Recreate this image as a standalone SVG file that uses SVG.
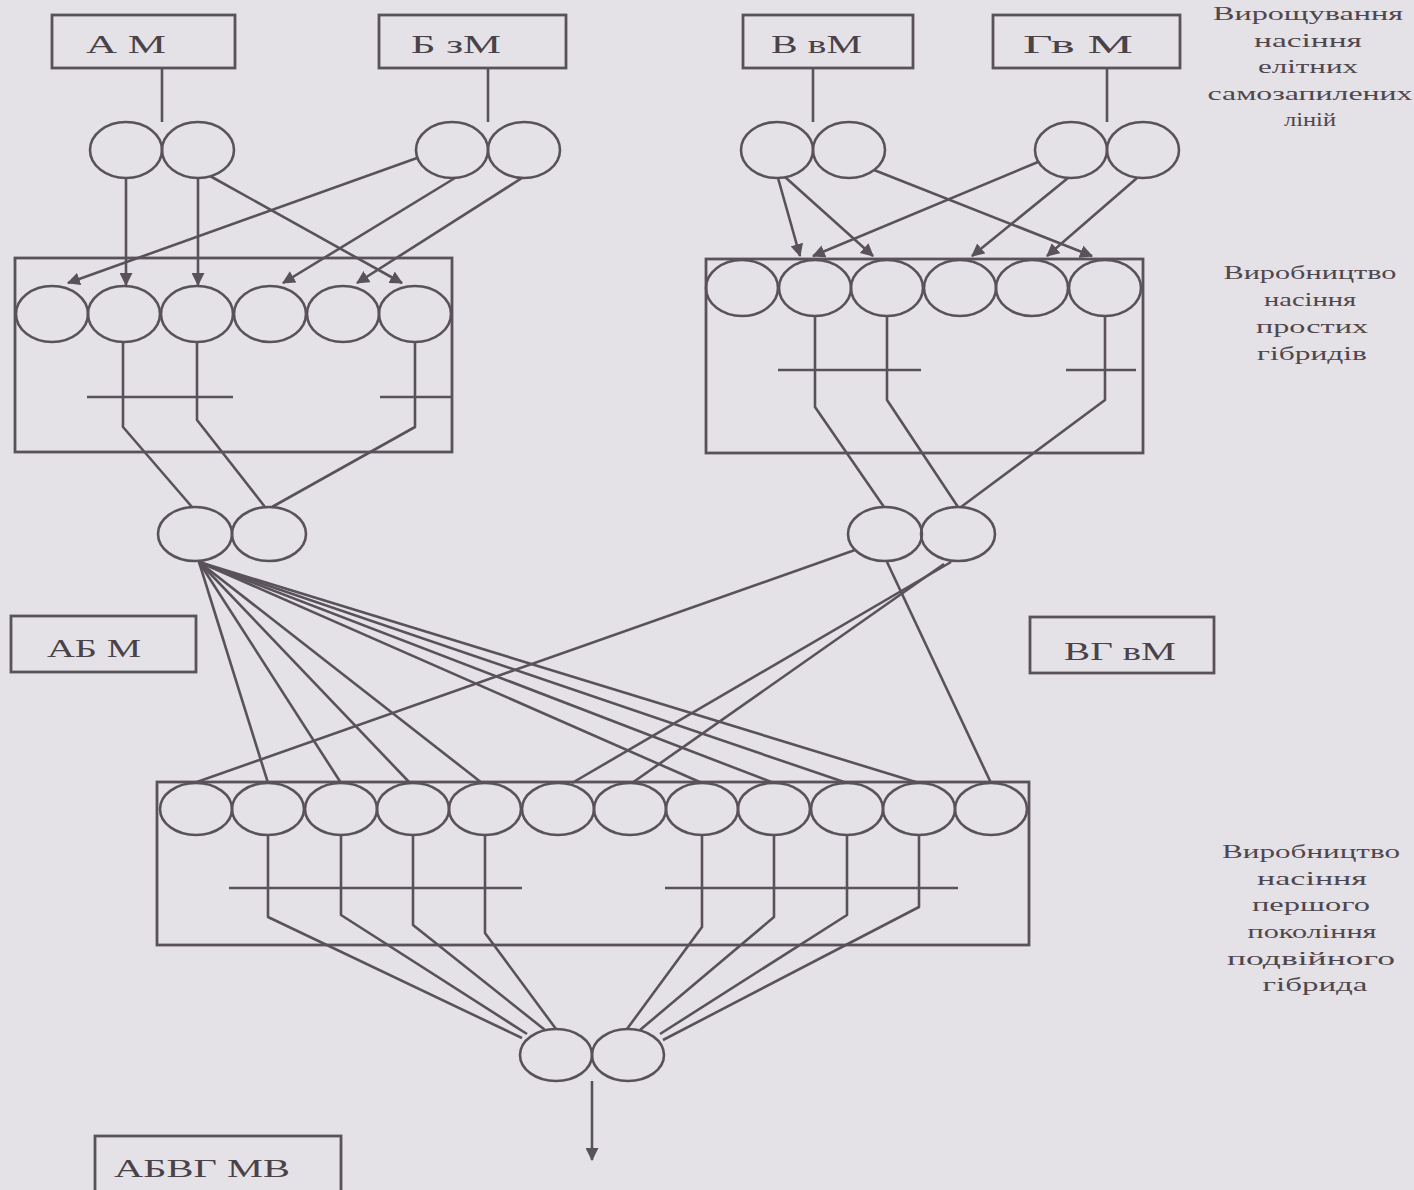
<svg xmlns="http://www.w3.org/2000/svg" width="1414" height="1190" viewBox="0 0 1414 1190">
<defs>
<style>
.ln{fill:none;stroke:#5a525a;stroke-width:2.6;stroke-linejoin:round}
.bx{fill:none;stroke:#5a525a;stroke-width:2.8}
.c{fill:none;stroke:#5a525a;stroke-width:2.6}
.lb{font-family:"Liberation Serif","Times New Roman",serif;font-size:26px;fill:#4a4249}
.sd{font-family:"Liberation Serif","Times New Roman",serif;font-size:19px;fill:#4f474e;text-anchor:middle}
</style>
<marker id="ah" viewBox="0 0 12 12" refX="11" refY="6" markerWidth="13" markerHeight="13" markerUnits="userSpaceOnUse" orient="auto">
<path d="M0,0 L12,6 L0,12 Z" fill="#5a525a"/>
</marker>
</defs>
<rect x="0" y="0" width="1414" height="1190" fill="#e5e2e7"/>

<g id="connectors">
<path class="ln" d="M162,68 V122"/>
<path class="ln" d="M488,68 V122"/>
<path class="ln" d="M813,68 V122"/>
<path class="ln" d="M1107,68 V122"/>
<path class="ln" d="M126,178 L126,285" marker-end="url(#ah)"/>
<path class="ln" d="M198,178 L198,285" marker-end="url(#ah)"/>
<path class="ln" d="M210,176 L402,283" marker-end="url(#ah)"/>
<path class="ln" d="M417,158 L68,283" marker-end="url(#ah)"/>
<path class="ln" d="M455,178 L283,283" marker-end="url(#ah)"/>
<path class="ln" d="M522,178 L357,283" marker-end="url(#ah)"/>
<path class="ln" d="M778,178 L800,256" marker-end="url(#ah)"/>
<path class="ln" d="M785,177 L873,256" marker-end="url(#ah)"/>
<path class="ln" d="M874,170 L1092,256" marker-end="url(#ah)"/>
<path class="ln" d="M1038,162 L813,256" marker-end="url(#ah)"/>
<path class="ln" d="M1068,178 L972,256" marker-end="url(#ah)"/>
<path class="ln" d="M1137,178 L1047,256" marker-end="url(#ah)"/>
<path class="ln" d="M123,342 V427 L192,507"/>
<path class="ln" d="M197,342 V420 L265,507"/>
<path class="ln" d="M415,342 V427 L272,507"/>
<path class="ln" d="M87,397 H233"/>
<path class="ln" d="M380,397 H452"/>
<path class="ln" d="M815,316 V407 L884,507"/>
<path class="ln" d="M887,316 V400 L958,507"/>
<path class="ln" d="M1105,316 V400 L961,507"/>
<path class="ln" d="M778,370 H921"/>
<path class="ln" d="M1066,370 H1136"/>
<path class="ln" d="M199,562 L268,783"/>
<path class="ln" d="M199,562 L341,783"/>
<path class="ln" d="M199,562 L410,783"/>
<path class="ln" d="M199,562 L482,783"/>
<path class="ln" d="M199,562 L702,783"/>
<path class="ln" d="M199,562 L774,783"/>
<path class="ln" d="M199,562 L847,783"/>
<path class="ln" d="M199,562 L919,783"/>
<path class="ln" d="M855,550 L194,783"/>
<path class="ln" d="M951,562 L572,783"/>
<path class="ln" d="M944,564 L632,783"/>
<path class="ln" d="M887,562 L991,783"/>
<path class="ln" d="M268,835 V917 L522,1038"/>
<path class="ln" d="M341,835 V915 L527,1034"/>
<path class="ln" d="M413,835 V925 L545,1030"/>
<path class="ln" d="M485,835 V933 L556,1029"/>
<path class="ln" d="M702,835 V927 L627,1029"/>
<path class="ln" d="M774,835 V917 L640,1030"/>
<path class="ln" d="M847,835 V915 L660,1034"/>
<path class="ln" d="M919,835 V907 L663,1040"/>
<path class="ln" d="M229,888 H522"/>
<path class="ln" d="M665,888 H958"/>
<path class="ln" d="M592,1081 V1160" marker-end="url(#ah)"/>
</g>

<g id="node-AM"><rect class="bx" x="52" y="15" width="183" height="53"/><text class="lb" x="86" y="53" textLength="80" lengthAdjust="spacingAndGlyphs">А М</text></g>
<g id="node-BzM"><rect class="bx" x="379" y="15" width="187" height="53"/><text class="lb" x="411" y="53" textLength="90" lengthAdjust="spacingAndGlyphs">Б зМ</text></g>
<g id="node-VvM"><rect class="bx" x="743" y="15" width="170" height="53"/><text class="lb" x="771" y="53" textLength="91" lengthAdjust="spacingAndGlyphs">В вМ</text></g>
<g id="node-GvM"><rect class="bx" x="993" y="15" width="187" height="53"/><text class="lb" x="1023" y="53" textLength="110" lengthAdjust="spacingAndGlyphs">Гв М</text></g>

<g id="pair-A"><ellipse class="c" cx="126" cy="150" rx="36" ry="28"/><ellipse class="c" cx="198" cy="150" rx="36" ry="28"/></g>
<g id="pair-B"><ellipse class="c" cx="452" cy="150" rx="36" ry="28"/><ellipse class="c" cx="524" cy="150" rx="36" ry="28"/></g>
<g id="pair-V"><ellipse class="c" cx="777" cy="150" rx="36" ry="28"/><ellipse class="c" cx="849" cy="150" rx="36" ry="28"/></g>
<g id="pair-G"><ellipse class="c" cx="1071" cy="150" rx="36" ry="28"/><ellipse class="c" cx="1143" cy="150" rx="36" ry="28"/></g>

<g id="field-AB">
<rect class="bx" x="15" y="258" width="437" height="194"/>
<ellipse class="c" cx="52" cy="314" rx="36" ry="28"/>
<ellipse class="c" cx="124" cy="314" rx="36" ry="28"/>
<ellipse class="c" cx="197" cy="314" rx="36" ry="28"/>
<ellipse class="c" cx="270" cy="314" rx="36" ry="28"/>
<ellipse class="c" cx="343" cy="314" rx="36" ry="28"/>
<ellipse class="c" cx="415" cy="314" rx="36" ry="28"/>
</g>

<g id="field-VG">
<rect class="bx" x="706" y="259" width="437" height="194"/>
<ellipse class="c" cx="742" cy="288" rx="36" ry="28"/>
<ellipse class="c" cx="815" cy="288" rx="36" ry="28"/>
<ellipse class="c" cx="887" cy="288" rx="36" ry="28"/>
<ellipse class="c" cx="960" cy="288" rx="36" ry="28"/>
<ellipse class="c" cx="1032" cy="288" rx="36" ry="28"/>
<ellipse class="c" cx="1105" cy="288" rx="36" ry="28"/>
</g>

<g id="pair-AB"><ellipse class="c" cx="195" cy="534" rx="37" ry="27"/><ellipse class="c" cx="269" cy="534" rx="37" ry="27"/></g>
<g id="pair-VG"><ellipse class="c" cx="885" cy="534" rx="37" ry="27"/><ellipse class="c" cx="958" cy="534" rx="37" ry="27"/></g>

<g id="node-ABM"><rect class="bx" x="11" y="616" width="185" height="56"/><text class="lb" x="47" y="657" textLength="94" lengthAdjust="spacingAndGlyphs">АБ М</text></g>
<g id="node-VGvM"><rect class="bx" x="1030" y="617" width="184" height="56"/><text class="lb" x="1064" y="660" textLength="112" lengthAdjust="spacingAndGlyphs">ВГ вМ</text></g>

<g id="field-ABVG">
<rect class="bx" x="157" y="782" width="872" height="163"/>
<ellipse class="c" cx="196" cy="809" rx="36" ry="26"/>
<ellipse class="c" cx="268" cy="809" rx="36" ry="26"/>
<ellipse class="c" cx="341" cy="809" rx="36" ry="26"/>
<ellipse class="c" cx="413" cy="809" rx="36" ry="26"/>
<ellipse class="c" cx="485" cy="809" rx="36" ry="26"/>
<ellipse class="c" cx="558" cy="809" rx="36" ry="26"/>
<ellipse class="c" cx="630" cy="809" rx="36" ry="26"/>
<ellipse class="c" cx="702" cy="809" rx="36" ry="26"/>
<ellipse class="c" cx="774" cy="809" rx="36" ry="26"/>
<ellipse class="c" cx="847" cy="809" rx="36" ry="26"/>
<ellipse class="c" cx="919" cy="809" rx="36" ry="26"/>
<ellipse class="c" cx="991" cy="809" rx="36" ry="26"/>
</g>

<g id="pair-ABVG"><ellipse class="c" cx="556" cy="1055" rx="36" ry="26"/><ellipse class="c" cx="628" cy="1055" rx="36" ry="26"/></g>

<g id="node-ABVGMV"><rect class="bx" x="95" y="1136" width="246" height="70"/><text class="lb" x="114" y="1177" textLength="176" lengthAdjust="spacingAndGlyphs">АБВГ МВ</text></g>

<g id="label-1">
<text class="sd" x="1308" y="20" textLength="190" lengthAdjust="spacingAndGlyphs">Вирощування</text>
<text class="sd" x="1308" y="47" textLength="108" lengthAdjust="spacingAndGlyphs">насіння</text>
<text class="sd" x="1308" y="73" textLength="100" lengthAdjust="spacingAndGlyphs">елітних</text>
<text class="sd" x="1310" y="100" textLength="205" lengthAdjust="spacingAndGlyphs">самозапилених</text>
<text class="sd" x="1310" y="126" textLength="52" lengthAdjust="spacingAndGlyphs">ліній</text>
</g>
<g id="label-2">
<text class="sd" x="1310" y="279" textLength="173" lengthAdjust="spacingAndGlyphs">Виробництво</text>
<text class="sd" x="1310" y="306" textLength="92" lengthAdjust="spacingAndGlyphs">насіння</text>
<text class="sd" x="1312" y="333" textLength="112" lengthAdjust="spacingAndGlyphs">простих</text>
<text class="sd" x="1312" y="360" textLength="110" lengthAdjust="spacingAndGlyphs">гібридів</text>
</g>
<g id="label-3">
<text class="sd" x="1311" y="858" textLength="178" lengthAdjust="spacingAndGlyphs">Виробництво</text>
<text class="sd" x="1312" y="885" textLength="110" lengthAdjust="spacingAndGlyphs">насіння</text>
<text class="sd" x="1311" y="911" textLength="118" lengthAdjust="spacingAndGlyphs">першого</text>
<text class="sd" x="1312" y="938" textLength="129" lengthAdjust="spacingAndGlyphs">покоління</text>
<text class="sd" x="1311" y="965" textLength="168" lengthAdjust="spacingAndGlyphs">подвійного</text>
<text class="sd" x="1315" y="991" textLength="105" lengthAdjust="spacingAndGlyphs">гібрида</text>
</g>
</svg>
